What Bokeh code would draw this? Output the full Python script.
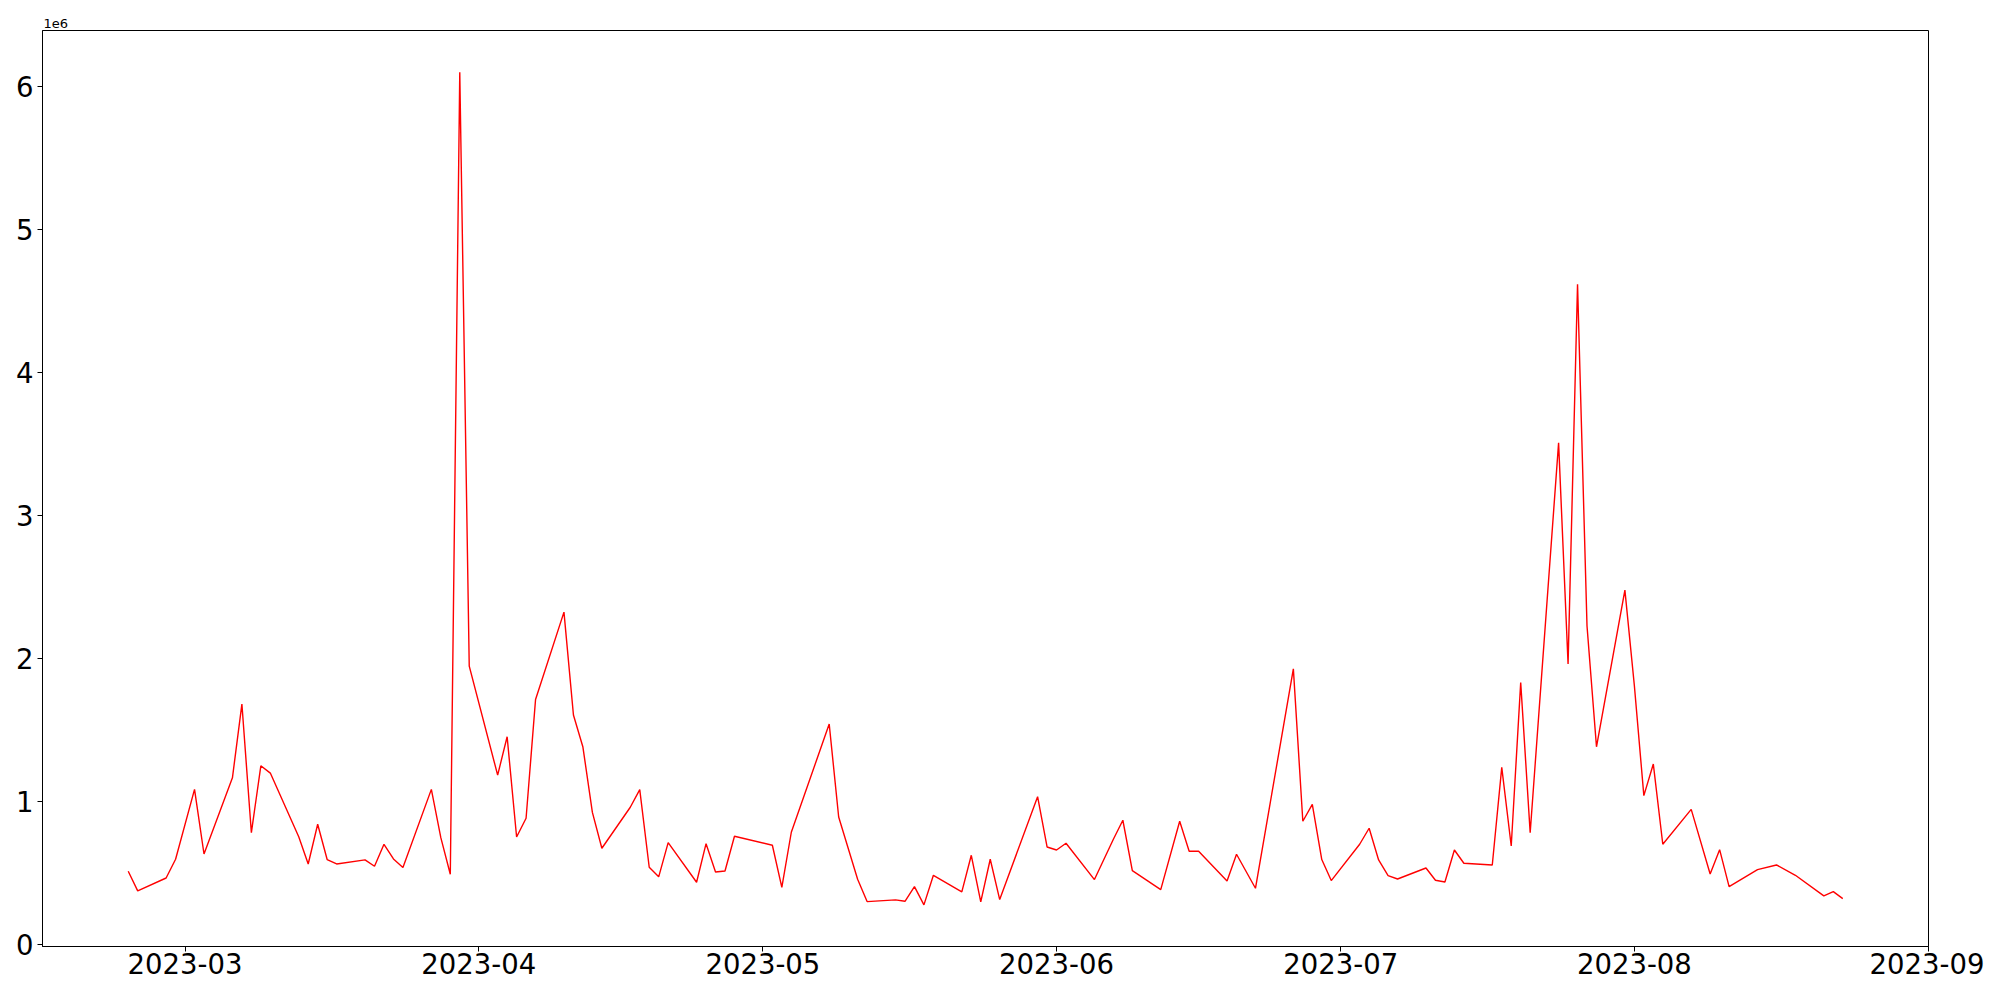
import numpy as np
from bokeh.plotting import figure
from bokeh.models import Range1d, FixedTicker, DatetimeTickFormatter
from bokeh.embed import file_html
from bokeh.resources import INLINE

dates = [
    "2023-02-23", "2023-02-24", "2023-02-27", "2023-02-28", "2023-03-02", "2023-03-03",
    "2023-03-06", "2023-03-07", "2023-03-08", "2023-03-09", "2023-03-10",
    "2023-03-13", "2023-03-14", "2023-03-15", "2023-03-16", "2023-03-17",
    "2023-03-20", "2023-03-21", "2023-03-22", "2023-03-23", "2023-03-24",
    "2023-03-27", "2023-03-28", "2023-03-29", "2023-03-30", "2023-03-31",
    "2023-04-03", "2023-04-04", "2023-04-05", "2023-04-06", "2023-04-07",
    "2023-04-10", "2023-04-11", "2023-04-12", "2023-04-13", "2023-04-14",
    "2023-04-17", "2023-04-18", "2023-04-19", "2023-04-20", "2023-04-21",
    "2023-04-24", "2023-04-25", "2023-04-26", "2023-04-27", "2023-04-28",
    "2023-05-02", "2023-05-03", "2023-05-04", "2023-05-08", "2023-05-09",
    "2023-05-11", "2023-05-12", "2023-05-15", "2023-05-16", "2023-05-17",
    "2023-05-18", "2023-05-19", "2023-05-22", "2023-05-23", "2023-05-24",
    "2023-05-25", "2023-05-26", "2023-05-30", "2023-05-31", "2023-06-01",
    "2023-06-02", "2023-06-05", "2023-06-07", "2023-06-08", "2023-06-09",
    "2023-06-12", "2023-06-14", "2023-06-15", "2023-06-16", "2023-06-19",
    "2023-06-20", "2023-06-22", "2023-06-26", "2023-06-27", "2023-06-28",
    "2023-06-29", "2023-06-30", "2023-07-03", "2023-07-04", "2023-07-05",
    "2023-07-06", "2023-07-07", "2023-07-10", "2023-07-11", "2023-07-12",
    "2023-07-13", "2023-07-14", "2023-07-17", "2023-07-18", "2023-07-19",
    "2023-07-20", "2023-07-21", "2023-07-24", "2023-07-25", "2023-07-26",
    "2023-07-27", "2023-07-28", "2023-07-31", "2023-08-01", "2023-08-02",
    "2023-08-03", "2023-08-04", "2023-08-07", "2023-08-09", "2023-08-10",
    "2023-08-11", "2023-08-14", "2023-08-16", "2023-08-18", "2023-08-21",
    "2023-08-22", "2023-08-23",
]

values = [
    512000, 375000, 465000, 596000, 1085000, 633000,
    1166000, 1682000, 782000, 1250000, 1199000,
    754000, 563000, 841000, 594000, 563000,
    592000, 547000, 701000, 598000, 538000,
    1085000, 747000, 491000, 6103000, 1947000,
    1185000, 1453000, 752000, 883000, 1714000,
    2325000, 1605000, 1381000, 924000, 673000,
    960000, 1083000, 540000, 473000, 712000,
    435000, 705000, 507000, 514000, 757000,
    694000, 400000, 785000, 1542000, 892000,
    456000, 300000, 312000, 302000, 405000,
    277000, 484000, 368000, 624000, 298000,
    596000, 314000, 1034000, 682000, 661000,
    708000, 454000, 736000, 869000, 517000,
    384000, 862000, 652000, 652000, 444000,
    631000, 393000, 1928000, 862000, 980000,
    594000, 447000, 701000, 813000, 591000,
    482000, 458000, 535000, 449000, 437000,
    661000, 568000, 556000, 1239000, 689000,
    1833000, 782000, 3509000, 1962000, 4619000,
    2228000, 1383000, 2479000, 1810000, 1041000,
    1262000, 701000, 945000, 493000, 663000,
    405000, 524000, 556000, 484000, 340000,
    370000, 321000,
]

month_ticks = ["2023-03-01", "2023-04-01", "2023-05-01", "2023-06-01",
               "2023-07-01", "2023-08-01", "2023-09-01"]
y_ticks = [0, 1000000, 2000000, 3000000, 4000000, 5000000, 6000000]
y_tick_labels = ["0", "1", "2", "3", "4", "5", "6"]
offset_text = "1e6"

x = np.array(dates, dtype="datetime64[ms]")
xms = x.astype("int64").astype(float)
y = np.array(values, dtype=float)

xpad = 0.05 * (xms.max() - xms.min())
ypad = 0.05 * (y.max() - y.min())
x_start, x_end = xms.min() - xpad, xms.max() + xpad
y_start, y_end = y.min() - ypad, y.max() + ypad

p = figure(
    x_axis_type="datetime",
    frame_width=1886, frame_height=916,
    min_border_left=42, min_border_right=56,
    min_border_top=30, min_border_bottom=38,
    output_backend="svg", toolbar_location=None,
    x_range=Range1d(x_start, x_end), y_range=Range1d(y_start, y_end),
    background_fill_color="white", border_fill_color="white",
    title=offset_text,
)

p.title.text_font = "DejaVu Sans"
p.title.text_font_size = "13px"
p.title.text_font_style = "normal"
p.title.text_color = "black"
p.title.align = "left"
p.title.offset = 1
p.title.standoff = 5

p.line(x, y, line_color="#ff0000", line_width=1.4)

p.xgrid.visible = False
p.ygrid.visible = False
p.outline_line_color = "black"
p.outline_line_width = 1
p.outline_line_alpha = 1

tick_ms = np.array(month_ticks, dtype="datetime64[ms]").astype("int64").astype(float).tolist()
p.xaxis.ticker = FixedTicker(ticks=tick_ms)
p.xaxis.formatter = DatetimeTickFormatter(days="%Y-%m", months="%Y-%m", years="%Y-%m")
p.yaxis.ticker = FixedTicker(ticks=y_ticks)
p.yaxis.major_label_overrides = {float(t): l for t, l in zip(y_ticks, y_tick_labels)}

for ax in (p.xaxis[0], p.yaxis[0]):
    ax.major_label_text_font = "DejaVu Sans"
    ax.major_label_text_font_size = "27.5px"
    ax.major_label_text_color = "black"
    ax.major_tick_out = 5
    ax.major_tick_in = 0
    ax.minor_tick_out = 0
    ax.minor_tick_in = 0
    ax.axis_line_color = "black"
    ax.axis_line_width = 1
    ax.major_tick_line_color = "black"
    ax.major_tick_line_width = 1
p.xaxis.major_label_standoff = 1
p.yaxis.major_label_standoff = 4

open("out.html", "w").write(file_html(p, INLINE))
